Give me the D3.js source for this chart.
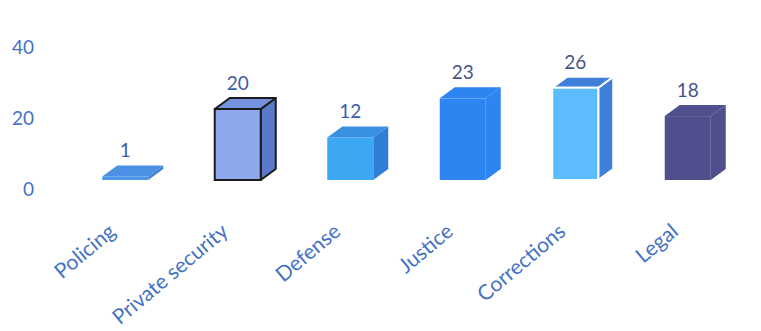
<!DOCTYPE html>
<html>
<head>
<meta charset="utf-8">
<script src="https://cdn.jsdelivr.net/npm/d3@7"></script>
<style>
  html, body { margin: 0; padding: 0; background: #fff; }
  svg { display: block; font-family: Lato, "Open Sans", sans-serif; }
</style>
</head>
<body>
<svg id="chart" width="761" height="331"></svg>
<script>
// Data
const categories = ["Policing", "Private security", "Defense", "Justice", "Corrections", "Legal"];
const values = [1, 20, 12, 23, 26, 18];
const yTicks = [0, 20, 40];

// Face colours per bar: front, top, side
const faceColors = [
  { front: "#4d95e6", top: "#4b91e3", side: "#3f82d6" },
  { front: "#8ea8ec", top: "#7592de", side: "#5b79c9" },
  { front: "#3ca8f4", top: "#3a91e2", side: "#2f7fd6" },
  { front: "#2c85f1", top: "#2c85f1", side: "#2c85f1" },
  { front: "#5bbdff", top: "#3f7fd9", side: "#3f7fd9" },
  { front: "#4e4f8c", top: "#4e4f8c", side: "#4e4f8c" }
];
const outlines = [null, { color: "#1b1b1b", width: 2 }, null, null, { color: "#ffffff", width: 2 }, null];

const svg = d3.select("#chart");

const x = d3.scaleBand().domain(categories).range([69, 744]).padding(0);
const y = d3.scaleLinear().domain([0, 40]).range([180, 38]);

const frontW = 46, depthX = 15, depthY = 11;

// Y axis labels (sit slightly below the floor plane of the 3D boxes)
const yAxis = d3.axisLeft(y).tickValues(yTicks).tickSize(0).tickPadding(0);
const gy = svg.append("g").attr("transform", "translate(34,9)").call(yAxis);
gy.select(".domain").remove();
gy.selectAll("text")
  .attr("fill", "#4472c4")
  .attr("font-size", 19)
  .attr("font-family", "Lato, 'Open Sans', sans-serif");

// 3D boxes
const bars = svg.append("g").selectAll("g.bar")
  .data(categories.map((c, i) => ({ c, v: values[i], i })))
  .join("g").attr("class", "bar");

bars.each(function(d) {
  const g = d3.select(this);
  const cx = x(d.c) + x.bandwidth() / 2;
  const x0 = cx - frontW / 2, x1 = cx + frontW / 2;
  const yb = y(0), yt = y(d.v);
  const col = faceColors[d.i];
  const ol = outlines[d.i];
  const stroke = ol ? ol.color : "none";
  const sw = ol ? ol.width : 0;

  const line = pts => "M" + pts.map(p => p.join(",")).join("L") + "Z";

  // side face
  g.append("path")
    .attr("d", line([[x1, yb], [x1, yt], [x1 + depthX, yt - depthY], [x1 + depthX, yb - depthY]]))
    .attr("fill", col.side).attr("stroke", stroke).attr("stroke-width", sw).attr("stroke-linejoin", "round");
  // top face
  g.append("path")
    .attr("d", line([[x0, yt], [x0 + depthX, yt - depthY], [x1 + depthX, yt - depthY], [x1, yt]]))
    .attr("fill", col.top).attr("stroke", stroke).attr("stroke-width", sw).attr("stroke-linejoin", "round");
  // front face
  g.append("rect")
    .attr("x", x0).attr("y", yt).attr("width", frontW).attr("height", yb - yt)
    .attr("fill", col.front).attr("stroke", stroke).attr("stroke-width", sw);

  // value label
  g.append("text")
    .attr("x", cx).attr("y", yt - depthY - 8)
    .attr("text-anchor", "middle")
    .attr("font-size", 19)
    .attr("fill", d.i < 3 ? "#3d5ca8" : "#47548c")
    .text(d.v);
});

// Category labels, rotated
const xAxis = d3.axisBottom(x).tickSize(0).tickPadding(0);
const gx = svg.append("g").attr("transform", "translate(-13,228)").call(xAxis);
gx.select(".domain").remove();
gx.selectAll("text")
  .attr("fill", "#4472c4")
  .attr("font-size", 21)
  .attr("font-family", "Lato, 'Open Sans', sans-serif")
  .attr("text-anchor", "end")
  .attr("dy", "0.35em")
  .attr("transform", "rotate(-40)");
</script>
</body>
</html>
